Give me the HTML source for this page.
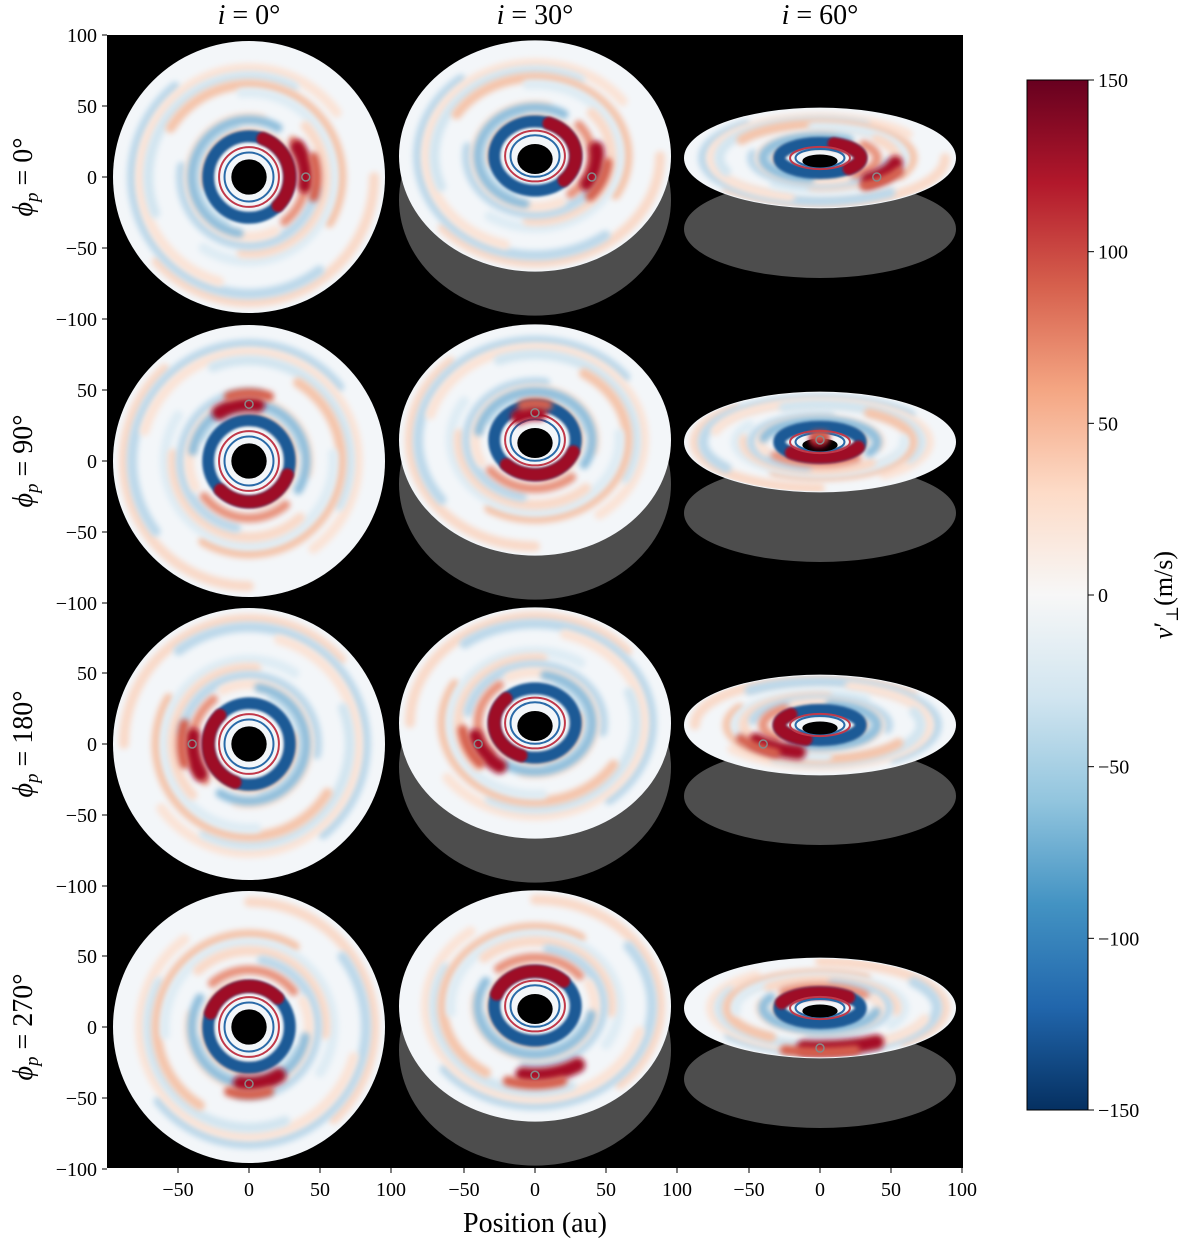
<!DOCTYPE html>
<html><head><meta charset="utf-8"><style>
html,body{margin:0;padding:0;background:#fff;}
svg{display:block;font-family:"Liberation Serif","DejaVu Serif",serif;}
</style></head><body>
<svg id="fig" width="1200" height="1244" viewBox="0 0 1200 1244">
<defs>
<linearGradient id="cbar" x1="0" y1="1" x2="0" y2="0">
<stop offset="0" stop-color="#053061"/><stop offset="0.1" stop-color="#2166ac"/>
<stop offset="0.2" stop-color="#4393c3"/><stop offset="0.3" stop-color="#92c5de"/>
<stop offset="0.4" stop-color="#d1e5f0"/><stop offset="0.5" stop-color="#f7f7f7"/>
<stop offset="0.6" stop-color="#fddbc7"/><stop offset="0.7" stop-color="#f4a582"/>
<stop offset="0.8" stop-color="#d6604d"/><stop offset="0.9" stop-color="#b2182b"/>
<stop offset="1" stop-color="#67001f"/></linearGradient>
<filter id="blur" filterUnits="userSpaceOnUse" x="0" y="0" width="1200" height="1244"><feGaussianBlur stdDeviation="3"/></filter>
<filter id="blur2" filterUnits="userSpaceOnUse" x="0" y="0" width="1200" height="1244"><feGaussianBlur stdDeviation="1.3"/></filter>
</defs>
<rect x="107" y="35" width="856" height="1133" fill="#000"/>
<g id="panels"></g>
<g id="axes"></g>
<rect x="1027" y="80" width="61" height="1030" fill="url(#cbar)" stroke="#000" stroke-width="1"/>
<g id="cticks"></g>
<text x="1172" y="595" font-size="26" text-anchor="middle" transform="rotate(-90 1172 595)"><tspan font-style="italic">v</tspan>′<tspan font-size="17" dy="6">⊥</tspan><tspan dy="-6">(m/s)</tspan></text>
<text x="535" y="1232" font-size="28" text-anchor="middle">Position (au)</text>
</svg>
<script>
const NS='http://www.w3.org/2000/svg';
const incl=[0,30,60];
const phis=[0,90,180,270];
const xTicks=[-50,0,50,100];
const yTicks=[100,50,0,-50,-100];
const cTicks=[150,100,50,0,-50,-100,-150];
const planetR=40;
const colX0=[249,535,820];
const rowY0=[177,461,744,1027];
const S=1.42;
function mk(tag,attrs,parent){const e=document.createElementNS(NS,tag);for(const k in attrs)e.setAttribute(k,attrs[k]);parent.appendChild(e);return e;}
const P=document.getElementById('panels'),A=document.getElementById('axes'),C=document.getElementById('cticks');
const reds=['#f9d9c8','#f5c4aa','#fbe3d6'],blues=['#d2e5f0','#bcd8ea','#deecf4'];
function arc(g,cx,cy,rx,ry,a0,span,col,w,filt){
 const x1=cx+rx*Math.cos(a0),y1=cy+ry*Math.sin(a0),x2=cx+rx*Math.cos(a0+span),y2=cy+ry*Math.sin(a0+span);
 const p=mk('path',{d:`M${x1},${y1} A${rx},${ry} 0 ${span>Math.PI?1:0} 1 ${x2},${y2}`,fill:'none',stroke:col,'stroke-width':w,'stroke-linecap':'round'},g);
 if(filt)p.setAttribute('filter',filt);return p;}
for(let r=0;r<4;r++){for(let c=0;c<3;c++){
 const cx=colX0[c],cy0=rowY0[r];
 const ci=[1,0.85,0.37][c];
 const rx=136,ry=rx*ci;
 const dy=c===0?0:(c===1?-21:-19);
 const cy=cy0+dy;
 const g=mk('g',{},P);
 
 
 if(c>0){const sh=mk('ellipse',{cx:cx,cy:c===1?cy0+23:cy0+52,rx:rx,ry:c===1?ry:49,fill:'#4d4d4d'},g);
  }
 const d=mk('ellipse',{cx:cx,cy:cy,rx:rx,ry:ry,fill:'#f3f6f9'},g);
 
 const cp=mk('clipPath',{id:'cp'+r+c},g);mk('ellipse',{cx:cx,cy:cy,rx:rx-1,ry:ry-1},cp);
 const cg=mk('g',{'clip-path':`url(#cp${r}${c})`},g);
 const rot=phis[r];
 for(let k=0;k<11;k++){const f=0.92-k*0.06;const col=(k%2?blues:reds)[k%3];
  arc(cg,cx,cy,rx*f,ry*f,(rot+k*53)*Math.PI/180,2.4+(k%3)*0.7,col,10,'url(#blur)');}
 const ir=0.3;
 arc(cg,cx,cy,rx*0.42,ry*0.42,(rot+100)*Math.PI/180,3.5,'#8fbedb',9,'url(#blur)');
 arc(cg,cx,cy,rx*0.42,ry*0.42,(rot-40)*Math.PI/180,1.6,'#e8917a',9,'url(#blur)');
 mk('ellipse',{cx:cx,cy:cy,rx:rx*ir,ry:ry*ir,fill:'none',stroke:'#1f5a96','stroke-width':12,filter:'url(#blur2)'},cg);
 arc(cg,cx,cy,rx*ir,ry*ir,(rot-70)*Math.PI/180,2.0,'#9e0f25',13,'url(#blur2)');
 mk('ellipse',{cx:cx,cy:cy,rx:rx*0.22,ry:ry*0.22,fill:'none',stroke:'#c0394a','stroke-width':2},cg);
 mk('ellipse',{cx:cx,cy:cy,rx:rx*0.18,ry:ry*0.18,fill:'none',stroke:'#2a6aa8','stroke-width':2},cg);
 mk('ellipse',{cx:cx,cy:cy+(c?3:0),rx:rx*0.13,ry:ry*0.13,fill:'#000'},cg);
 const ap=rot*Math.PI/180;
 const px=cx+planetR*S*Math.cos(ap),py=cy0-planetR*S*Math.sin(ap)*ci;
 const ux=(px-cx)/rx,uy=(py-cy)/ry,f=Math.sqrt(ux*ux+uy*uy);
 const pa=Math.atan2(uy,ux);
 arc(cg,cx,cy,rx*f,ry*f,pa-0.55,0.7,'#a50f25',15,'url(#blur)');
 arc(cg,cx,cy,rx*(f+0.08),ry*(f+0.08),pa-0.3,0.6,'#d6604d',10,'url(#blur)');
 const pm=mk('circle',{cx:px,cy:py,r:4,fill:'none',stroke:'#888','stroke-width':1.5},g);
 
}}
for(let r=0;r<4;r++){for(const t of yTicks){const y=rowY0[r]-t*S;
 if(r>0&&t===100)continue;
 mk('line',{x1:102,x2:107,y1:y,y2:y,stroke:'#000'},A);
 const tx=mk('text',{x:97,y:y+7,'font-size':20,'text-anchor':'end'},A);tx.textContent=(t<0?'−':'')+Math.abs(t);
 }}
for(let c=0;c<3;c++){for(const t of xTicks){const x=colX0[c]+t*S;
 mk('line',{x1:x,x2:x,y1:1168,y2:1173,stroke:'#000'},A);
 const tx=mk('text',{x:x,y:1196,'font-size':20,'text-anchor':'middle'},A);tx.textContent=(t<0?'−':'')+Math.abs(t);
 }
 const ti=mk('text',{x:colX0[c],y:24,'font-size':28,'text-anchor':'middle'},A);
 ti.innerHTML='<tspan font-style="italic">i</tspan> = '+incl[c]+'°';
 }
for(let r=0;r<4;r++){const y=rowY0[r];
 const t=mk('text',{x:32,y:y,'font-size':28,'text-anchor':'middle',transform:`rotate(-90 32 ${y})`},A);
 t.innerHTML='<tspan font-style="italic">ϕ</tspan><tspan font-style="italic" font-size="19" dy="6">p</tspan><tspan dy="-6"> = '+phis[r]+'°</tspan>';
 }
cTicks.forEach(v=>{const y=595-v*(515/150);
 mk('line',{x1:1088,x2:1094,y1:y,y2:y,stroke:'#000'},C);
 const t=mk('text',{x:1098,y:y+7,'font-size':20},C);t.textContent=(v<0?'−':'')+Math.abs(v);
 });
</script>
</body></html>
